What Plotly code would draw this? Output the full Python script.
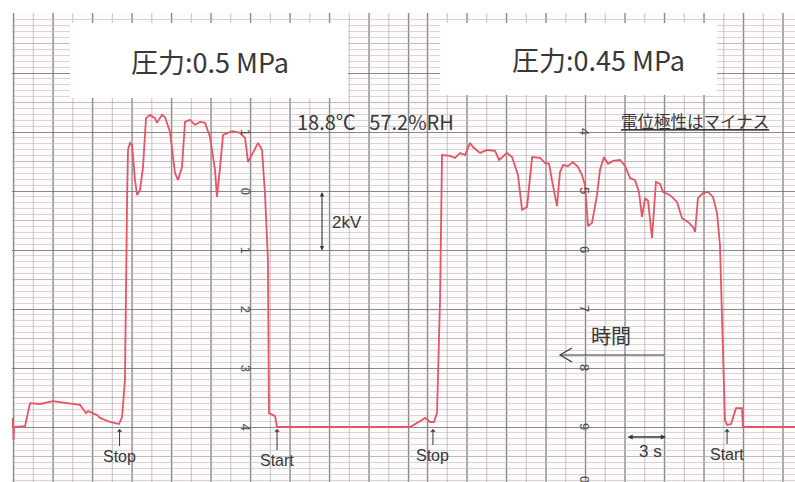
import plotly.graph_objects as go

# Electrostatic potential recorded on strip-chart paper (time runs right -> left)
time_s = [0.00, 3.95, 4.03, 4.48, 4.86, 5.16, 5.32, 5.54, 5.70, 5.92, 6.23, 6.61, 6.99, 7.37,
          7.59, 7.75, 8.13, 8.58, 8.96, 9.49, 10.03, 10.25, 10.56, 10.86, 11.16, 11.39, 11.62,
          11.85, 12.15, 12.53, 12.91, 13.29, 13.82, 14.20, 14.51, 14.81, 15.04, 15.42, 15.72,
          15.95, 16.18, 16.48, 16.86, 17.24, 17.62, 17.85, 18.08, 18.46, 18.68, 18.99, 19.37,
          19.97, 20.35, 20.73, 21.04, 21.49, 21.87, 22.48, 22.78, 23.39, 23.92, 24.46, 24.68,
          25.06, 25.44, 25.82, 26.20, 26.81, 26.96, 27.19, 27.42, 27.72, 28.10, 28.33, 29.24,
          39.34, 39.49, 39.95, 40.03, 40.25, 40.48, 40.78, 41.16, 41.54, 41.77, 42.15, 42.76,
          43.14, 43.44, 43.67, 43.90, 44.05, 44.43, 44.81, 45.19, 45.57, 45.95, 46.33, 46.56,
          46.86, 47.09, 47.47, 47.85, 48.08, 48.46, 48.61, 48.99, 49.29, 49.52, 49.75, 49.97,
          50.13, 50.35, 50.51, 50.66, 50.73, 50.89, 51.11, 51.34, 52.03, 52.78, 53.01, 53.70,
          53.85, 54.30, 55.29, 56.35, 57.34, 58.10, 58.48, 59.32, 59.35, 59.39, 59.47]
potential_kv = [0.00, 0.00, 0.64, 0.64, 0.10, 0.07, 0.24, 4.07, 6.17, 7.25, 7.80, 7.97, 7.93, 7.76,
                6.61, 6.78, 6.95, 7.08, 7.63, 7.86, 7.97, 8.24, 8.31, 6.41, 7.66, 7.76, 7.12,
                7.97, 8.37, 8.44, 8.85, 9.05, 9.02, 8.92, 9.15, 8.71, 7.86, 6.92, 6.81,
                8.20, 8.54, 8.81, 8.98, 8.85, 8.88, 8.64, 7.49, 8.37, 8.92, 8.95, 9.12,
                9.15, 7.46, 7.36, 8.54, 9.15, 9.29, 9.05, 9.36, 9.39, 9.29, 9.49, 9.63,
                9.22, 9.29, 9.12, 9.19, 9.22, 4.31, 0.47, 0.17, 0.17, 0.31, 0.24, 0.00,
                0.00, 0.37, 0.47, 5.66, 7.86, 9.39, 9.63, 9.29, 8.98, 9.80, 9.97, 10.03,
                9.97, 9.90, 8.81, 7.80, 8.71, 9.83, 10.31, 10.34, 10.24, 10.41, 10.34, 8.81,
                8.37, 8.61, 10.00, 10.51, 10.58, 10.31, 10.47, 10.58, 10.47, 8.81, 8.03, 7.86,
                8.37, 9.56, 9.63, 9.39, 7.69, 1.59, 0.34, 0.10, 0.17, 0.31, 0.41, 0.54,
                0.47, 0.75, 0.81, 0.88, 0.78, 0.81, 0.03, 0.00, -0.44, 0.31, 0.00]

titles = ["圧力:0.5 MPa", "圧力:0.45 MPa"]
conditions = "18.8℃   57.2%RH"
polarity_note = "電位極性はマイナス"
event_labels = ["Stop", "Start", "Stop", "Start"]
event_times = [51.30, 39.34, 27.50, 5.16]

# printed division numbers on the paper (two strips)
scale_left_labels = ["1", "0", "1", "2", "3", "4"]
scale_left_kv = [10, 8, 6, 4, 2, 0]
scale_right_labels = ["4", "5", "6", "7", "8", "9", "0"]
scale_right_kv = [10, 8, 6, 4, 2, 0, -1.8]

X_RANGE = [59.47, 0.0]
Y_RANGE = [-1.864, 14.034]
W, H = 795, 482
ML, MT = 12, 13
PW, PH = W - ML, H - MT


def tx(t):
    return (t - X_RANGE[0]) / (X_RANGE[1] - X_RANGE[0])


def vy(v):
    return (v - Y_RANGE[0]) / (Y_RANGE[1] - Y_RANGE[0])


def px(x):
    return (x - ML) / PW


def py(y):
    return (H - y) / PH


INK = "#383838"
MAJOR = "rgba(110,110,110,0.8)"
HALF = "rgba(140,140,140,0.5)"
FINE = "rgba(185,180,182,0.55)"

fig = go.Figure()
fig.add_trace(go.Scatter(x=time_s, y=potential_kv, mode="lines",
                         line=dict(color="#e65466", width=1.8), hoverinfo="skip"))

shapes = []
# vertical chart-paper rulings: the two strips are offset by half a division
seam = 28.63
for k in range(10):
    t = 0.91 + 3 * k
    if t < seam:
        shapes.append(dict(type="line", xref="x", yref="paper", x0=t, x1=t, y0=0, y1=1,
                           line=dict(color=MAJOR, width=1.4), layer="between"))
    t2 = 2.41 + 3 * k
    if t2 < seam:
        shapes.append(dict(type="line", xref="x", yref="paper", x0=t2, x1=t2, y0=0, y1=1,
                           line=dict(color=HALF, width=1), layer="between"))
for k in range(11):
    t = 29.35 + 3 * k
    shapes.append(dict(type="line", xref="x", yref="paper", x0=t, x1=t, y0=0, y1=1,
                       line=dict(color=MAJOR, width=1.4), layer="between"))
    t2 = 30.85 + 3 * k
    if t2 < X_RANGE[0]:
        shapes.append(dict(type="line", xref="x", yref="paper", x0=t2, x1=t2, y0=0, y1=1,
                           line=dict(color=HALF, width=1), layer="between"))
# odd-kV half rulings
for v in range(-1, 15, 2):
    shapes.append(dict(type="line", xref="paper", yref="y", x0=0, x1=1, y0=v, y1=v,
                       line=dict(color=HALF, width=1), layer="between"))

# white label panels
shapes.append(dict(type="rect", xref="paper", yref="paper", x0=px(70), x1=px(348),
                   y0=py(98), y1=py(23), fillcolor="white", line=dict(width=0), layer="above"))
shapes.append(dict(type="rect", xref="paper", yref="paper", x0=px(440), x1=px(717),
                   y0=py(95), y1=py(23), fillcolor="white", line=dict(width=0), layer="above"))

# time direction arrow: shaft plus open chevron head
INK_LINE = dict(color=INK, width=1.2)
shapes.append(dict(type="line", xref="paper", yref="paper", x0=px(664), x1=px(560),
                   y0=py(355), y1=py(355), line=INK_LINE, layer="above"))
shapes.append(dict(type="path", xref="paper", yref="paper",
                   path=f"M {px(572)},{py(348)} L {px(560)},{py(355)} L {px(572)},{py(362)}",
                   line=INK_LINE, layer="above"))

JP = "Noto Sans CJK JP"
SANS = "Liberation Sans, Arial"
ann = []
ann.append(dict(x=px(210), y=py(61), text=titles[0], font=dict(family=JP, size=27, color=INK)))
ann.append(dict(x=px(598), y=py(60), text=titles[1], font=dict(family=JP, size=27, color=INK)))
ann.append(dict(x=px(375), y=py(121), text=conditions, font=dict(family=JP, size=20, color=INK)))
ann.append(dict(x=px(695), y=py(121), text="<u>" + polarity_note + "</u>",
                font=dict(family=JP, size=16.5, color=INK)))

# 2 kV scale bar
ann.append(dict(x=px(322), y=py(192), ax=0, ay=60, text="", showarrow=True,
                arrowside="end+start", arrowhead=2, arrowsize=0.8, arrowwidth=1.1,
                arrowcolor=INK))
ann.append(dict(x=px(347), y=py(222), text="2kV", font=dict(family=SANS, size=17, color=INK)))

ann.append(dict(x=px(611), y=py(336), text="時間", font=dict(family=JP, size=20, color=INK)))

# 3 s scale bar
ann.append(dict(x=px(666), y=py(437), ax=-40, ay=0, text="", showarrow=True,
                arrowside="end+start", arrowhead=2, arrowsize=0.8, arrowwidth=1.3,
                arrowcolor=INK))
ann.append(dict(x=px(650), y=py(451), text="3 s", font=dict(family=SANS, size=17, color=INK)))

# start / stop markers
label_dy = [27, 31, 26, 25]
for lab, t, dy in zip(event_labels, event_times, label_dy):
    ann.append(dict(x=tx(t), y=vy(0) - 2 / PH, ax=0, ay=dy, text=lab, showarrow=True,
                    arrowhead=1, arrowsize=0.9, arrowwidth=1, arrowcolor=INK, standoff=0,
                    startstandoff=0, font=dict(family=SANS, size=16, color=INK)))

# printed division numerals (rotated, as on the paper)
for lab, v in zip(scale_left_labels, scale_left_kv):
    ann.append(dict(x=tx(41.68), y=vy(v), text=lab, textangle=90,
                    font=dict(family=SANS, size=13, color="#4a4a4a")))
for lab, v in zip(scale_right_labels, scale_right_kv):
    ann.append(dict(x=tx(15.95), y=vy(v), text=lab, textangle=90,
                    font=dict(family=SANS, size=13, color="#4a4a4a")))

for a in ann:
    a.setdefault("xref", "paper")
    a.setdefault("yref", "paper")
    a.setdefault("showarrow", False)
    a.setdefault("xanchor", "center")
    a.setdefault("yanchor", "middle")

fig.update_layout(
    width=W, height=H,
    margin=dict(l=ML, r=0, t=MT, b=0),
    paper_bgcolor="white",
    plot_bgcolor="#fdfbfb",
    showlegend=False,
    shapes=shapes,
    annotations=ann,
    xaxis=dict(range=X_RANGE, showgrid=False, zeroline=False, showticklabels=False,
               ticks="", showline=False, fixedrange=True),
    yaxis=dict(range=Y_RANGE, showgrid=True, gridcolor=MAJOR, gridwidth=1.4,
               tick0=0, dtick=2, zeroline=False, showticklabels=False, ticks="",
               showline=False, fixedrange=True,
               minor=dict(dtick=0.2, showgrid=True, gridcolor=FINE, gridwidth=1)),
)

fig.write_html("out.html")
